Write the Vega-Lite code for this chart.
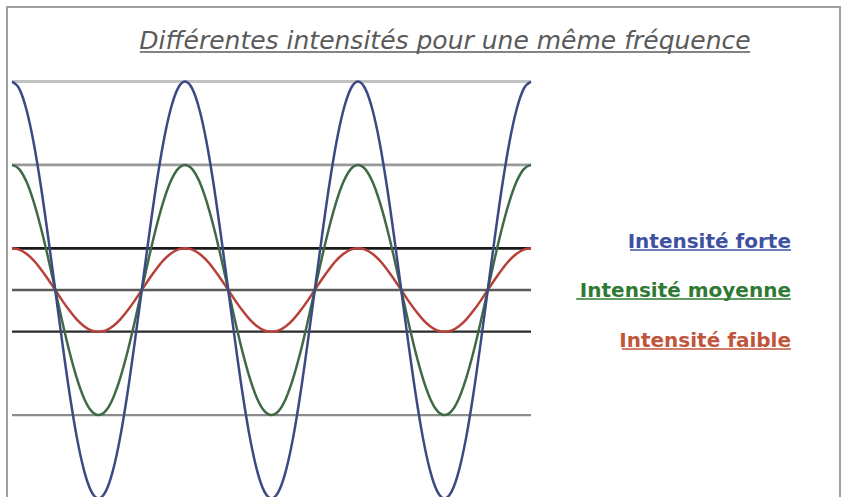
{
  "$schema": "https://vega.github.io/schema/vega-lite/v6.json",
  "autosize": {"type": "none"},
  "padding": {"left": 7, "top": 7, "right": 9, "bottom": 0},
  "width": 833,
  "height": 495,
  "background": "white",
  "config": {"view": {"stroke": "#a0a0a0", "strokeWidth": 2}},
  "data": {
    "values": [
      {"t": 0, "forte": 5, "moyenne": 3, "faible": 1},
      {"t": 15, "forte": 4.83, "moyenne": 2.9, "faible": 0.97},
      {"t": 30, "forte": 4.33, "moyenne": 2.6, "faible": 0.87},
      {"t": 45, "forte": 3.54, "moyenne": 2.12, "faible": 0.71},
      {"t": 60, "forte": 2.5, "moyenne": 1.5, "faible": 0.5},
      {"t": 75, "forte": 1.29, "moyenne": 0.78, "faible": 0.26},
      {"t": 90, "forte": 0, "moyenne": 0, "faible": 0},
      {"t": 105, "forte": -1.29, "moyenne": -0.78, "faible": -0.26},
      {"t": 120, "forte": -2.5, "moyenne": -1.5, "faible": -0.5},
      {"t": 135, "forte": -3.54, "moyenne": -2.12, "faible": -0.71},
      {"t": 150, "forte": -4.33, "moyenne": -2.6, "faible": -0.87},
      {"t": 165, "forte": -4.83, "moyenne": -2.9, "faible": -0.97},
      {"t": 180, "forte": -5, "moyenne": -3, "faible": -1},
      {"t": 195, "forte": -4.83, "moyenne": -2.9, "faible": -0.97},
      {"t": 210, "forte": -4.33, "moyenne": -2.6, "faible": -0.87},
      {"t": 225, "forte": -3.54, "moyenne": -2.12, "faible": -0.71},
      {"t": 240, "forte": -2.5, "moyenne": -1.5, "faible": -0.5},
      {"t": 255, "forte": -1.29, "moyenne": -0.78, "faible": -0.26},
      {"t": 270, "forte": 0, "moyenne": 0, "faible": 0},
      {"t": 285, "forte": 1.29, "moyenne": 0.78, "faible": 0.26},
      {"t": 300, "forte": 2.5, "moyenne": 1.5, "faible": 0.5},
      {"t": 315, "forte": 3.54, "moyenne": 2.12, "faible": 0.71},
      {"t": 330, "forte": 4.33, "moyenne": 2.6, "faible": 0.87},
      {"t": 345, "forte": 4.83, "moyenne": 2.9, "faible": 0.97},
      {"t": 360, "forte": 5, "moyenne": 3, "faible": 1},
      {"t": 375, "forte": 4.83, "moyenne": 2.9, "faible": 0.97},
      {"t": 390, "forte": 4.33, "moyenne": 2.6, "faible": 0.87},
      {"t": 405, "forte": 3.54, "moyenne": 2.12, "faible": 0.71},
      {"t": 420, "forte": 2.5, "moyenne": 1.5, "faible": 0.5},
      {"t": 435, "forte": 1.29, "moyenne": 0.78, "faible": 0.26},
      {"t": 450, "forte": 0, "moyenne": 0, "faible": 0},
      {"t": 465, "forte": -1.29, "moyenne": -0.78, "faible": -0.26},
      {"t": 480, "forte": -2.5, "moyenne": -1.5, "faible": -0.5},
      {"t": 495, "forte": -3.54, "moyenne": -2.12, "faible": -0.71},
      {"t": 510, "forte": -4.33, "moyenne": -2.6, "faible": -0.87},
      {"t": 525, "forte": -4.83, "moyenne": -2.9, "faible": -0.97},
      {"t": 540, "forte": -5, "moyenne": -3, "faible": -1},
      {"t": 555, "forte": -4.83, "moyenne": -2.9, "faible": -0.97},
      {"t": 570, "forte": -4.33, "moyenne": -2.6, "faible": -0.87},
      {"t": 585, "forte": -3.54, "moyenne": -2.12, "faible": -0.71},
      {"t": 600, "forte": -2.5, "moyenne": -1.5, "faible": -0.5},
      {"t": 615, "forte": -1.29, "moyenne": -0.78, "faible": -0.26},
      {"t": 630, "forte": 0, "moyenne": 0, "faible": 0},
      {"t": 645, "forte": 1.29, "moyenne": 0.78, "faible": 0.26},
      {"t": 660, "forte": 2.5, "moyenne": 1.5, "faible": 0.5},
      {"t": 675, "forte": 3.54, "moyenne": 2.12, "faible": 0.71},
      {"t": 690, "forte": 4.33, "moyenne": 2.6, "faible": 0.87},
      {"t": 705, "forte": 4.83, "moyenne": 2.9, "faible": 0.97},
      {"t": 720, "forte": 5, "moyenne": 3, "faible": 1},
      {"t": 735, "forte": 4.83, "moyenne": 2.9, "faible": 0.97},
      {"t": 750, "forte": 4.33, "moyenne": 2.6, "faible": 0.87},
      {"t": 765, "forte": 3.54, "moyenne": 2.12, "faible": 0.71},
      {"t": 780, "forte": 2.5, "moyenne": 1.5, "faible": 0.5},
      {"t": 795, "forte": 1.29, "moyenne": 0.78, "faible": 0.26},
      {"t": 810, "forte": 0, "moyenne": 0, "faible": 0},
      {"t": 825, "forte": -1.29, "moyenne": -0.78, "faible": -0.26},
      {"t": 840, "forte": -2.5, "moyenne": -1.5, "faible": -0.5},
      {"t": 855, "forte": -3.54, "moyenne": -2.12, "faible": -0.71},
      {"t": 870, "forte": -4.33, "moyenne": -2.6, "faible": -0.87},
      {"t": 885, "forte": -4.83, "moyenne": -2.9, "faible": -0.97},
      {"t": 900, "forte": -5, "moyenne": -3, "faible": -1},
      {"t": 915, "forte": -4.83, "moyenne": -2.9, "faible": -0.97},
      {"t": 930, "forte": -4.33, "moyenne": -2.6, "faible": -0.87},
      {"t": 945, "forte": -3.54, "moyenne": -2.12, "faible": -0.71},
      {"t": 960, "forte": -2.5, "moyenne": -1.5, "faible": -0.5},
      {"t": 975, "forte": -1.29, "moyenne": -0.78, "faible": -0.26},
      {"t": 990, "forte": 0, "moyenne": 0, "faible": 0},
      {"t": 1005, "forte": 1.29, "moyenne": 0.78, "faible": 0.26},
      {"t": 1020, "forte": 2.5, "moyenne": 1.5, "faible": 0.5},
      {"t": 1035, "forte": 3.54, "moyenne": 2.12, "faible": 0.71},
      {"t": 1050, "forte": 4.33, "moyenne": 2.6, "faible": 0.87},
      {"t": 1065, "forte": 4.83, "moyenne": 2.9, "faible": 0.97},
      {"t": 1080, "forte": 5, "moyenne": 3, "faible": 1}
    ]
  },
  "layer": [
    {
      "data": {"values": [{"niveau": 5}, {"niveau": 3}, {"niveau": 1}, {"niveau": 0}, {"niveau": -1}, {"niveau": -3}, {"niveau": -5}]},
      "mark": {"type": "rule"},
      "encoding": {
        "x": {"datum": 0, "type": "quantitative", "scale": {"domain": [-10.4, 1723.0], "nice": false, "zero": false}, "axis": null},
        "x2": {"datum": 1080},
        "y": {"field": "niveau", "type": "quantitative", "scale": {"domain": [-5.084, 6.787], "nice": false, "zero": false}, "axis": null},
        "color": {"field": "niveau", "type": "ordinal", "scale": {"domain": [5, 3, 1, 0, -1, -3, -5], "range": ["#c2c2c2", "#999999", "#1a1a1a", "#5a5a5a", "#2a2a2a", "#8c8c8c", "#8c8c8c"]}, "legend": null},
        "strokeWidth": {"field": "niveau", "type": "ordinal", "scale": {"domain": [5, 3, 1, 0, -1, -3, -5], "range": [3, 2, 2.5, 2, 2.5, 2, 2]}, "legend": null}
      }
    },
    {
      "transform": [{"fold": ["faible", "moyenne", "forte"], "as": ["serie", "valeur"]}],
      "mark": {"type": "line", "interpolate": "monotone", "strokeWidth": 2.5, "clip": true},
      "encoding": {
        "x": {"field": "t", "type": "quantitative", "axis": null},
        "y": {"field": "valeur", "type": "quantitative", "axis": null},
        "color": {"field": "serie", "type": "nominal", "scale": {"domain": ["faible", "moyenne", "forte"], "range": ["#b8403a", "#3f6a45", "#3b4a82"]}, "legend": null}
      }
    },
    {
      "data": {"values": [{"titre": "Différentes intensités pour une même fréquence"}]},
      "mark": {"type": "text", "font": "DejaVu Sans", "fontStyle": "italic", "fontSize": 25, "color": "#5a5a5a", "align": "center", "baseline": "alphabetic"},
      "encoding": {
        "x": {"datum": 901, "type": "quantitative"},
        "y": {"datum": 5.779, "type": "quantitative"},
        "text": {"field": "titre"}
      }
    },
    {
      "data": {"values": [{}]},
      "mark": {"type": "rule", "color": "#5a5a5a", "strokeWidth": 1.5},
      "encoding": {
        "x": {"datum": 266, "type": "quantitative"},
        "x2": {"datum": 1536},
        "y": {"datum": 5.707, "type": "quantitative"}
      }
    },
    {
      "data": {"values": [{"label": "Intensité forte"}]},
      "mark": {"type": "text", "font": "DejaVu Sans", "fontWeight": "bold", "fontSize": 20, "color": "#3f52a0", "align": "right", "baseline": "alphabetic"},
      "encoding": {
        "x": {"datum": 1621, "type": "quantitative"},
        "y": {"datum": 1.007, "type": "quantitative"},
        "text": {"field": "label"}
      }
    },
    {
      "data": {"values": [{}]},
      "mark": {"type": "rule", "color": "#3f52a0", "strokeWidth": 1.5},
      "encoding": {
        "x": {"datum": 1286, "type": "quantitative"},
        "x2": {"datum": 1621},
        "y": {"datum": 0.959, "type": "quantitative"}
      }
    },
    {
      "data": {"values": [{"label": "Intensité moyenne"}]},
      "mark": {"type": "text", "font": "DejaVu Sans", "fontWeight": "bold", "fontSize": 20, "color": "#2f7a32", "align": "right", "baseline": "alphabetic"},
      "encoding": {
        "x": {"datum": 1621, "type": "quantitative"},
        "y": {"datum": -0.168, "type": "quantitative"},
        "text": {"field": "label"}
      }
    },
    {
      "data": {"values": [{}]},
      "mark": {"type": "rule", "color": "#2f7a32", "strokeWidth": 1.5},
      "encoding": {
        "x": {"datum": 1174, "type": "quantitative"},
        "x2": {"datum": 1621},
        "y": {"datum": -0.216, "type": "quantitative"}
      }
    },
    {
      "data": {"values": [{"label": "Intensité faible"}]},
      "mark": {"type": "text", "font": "DejaVu Sans", "fontWeight": "bold", "fontSize": 20, "color": "#c0553a", "align": "right", "baseline": "alphabetic"},
      "encoding": {
        "x": {"datum": 1621, "type": "quantitative"},
        "y": {"datum": -1.367, "type": "quantitative"},
        "text": {"field": "label"}
      }
    },
    {
      "data": {"values": [{}]},
      "mark": {"type": "rule", "color": "#c0553a", "strokeWidth": 1.5},
      "encoding": {
        "x": {"datum": 1269, "type": "quantitative"},
        "x2": {"datum": 1621},
        "y": {"datum": -1.415, "type": "quantitative"}
      }
    }
  ],
  "resolve": {"scale": {"color": "independent", "strokeWidth": "independent"}}
}
